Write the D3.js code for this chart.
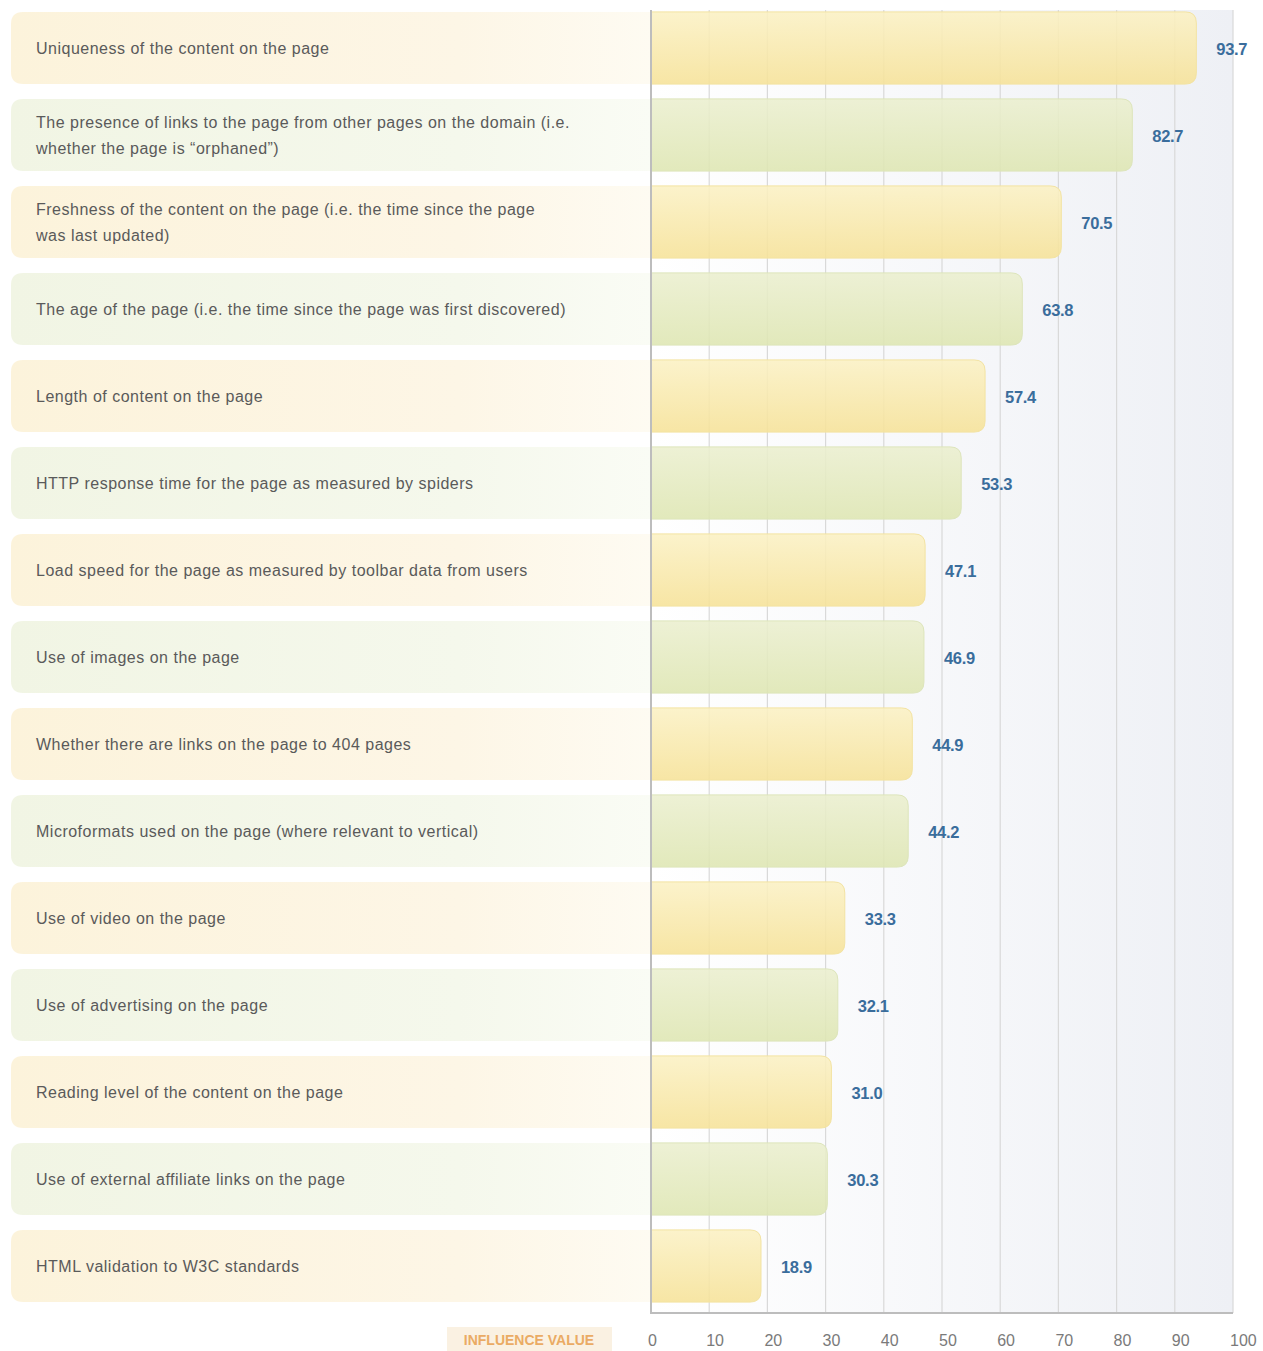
<!DOCTYPE html>
<html><head><meta charset="utf-8">
<script src="https://cdn.jsdelivr.net/npm/d3@7"></script>
<style>body{margin:0;background:#fff;}svg{display:block;}</style>
</head><body>
<script>
const categories = [
  "Uniqueness of the content on the page",
  "The presence of links to the page from other pages on the domain (i.e.\nwhether the page is \u201corphaned\u201d)",
  "Freshness of the content on the page (i.e. the time since the page\nwas last updated)",
  "The age of the page (i.e. the time since the page was first discovered)",
  "Length of content on the page",
  "HTTP response time for the page as measured by spiders",
  "Load speed for the page as measured by toolbar data from users",
  "Use of images on the page",
  "Whether there are links on the page to 404 pages",
  "Microformats used on the page (where relevant to vertical)",
  "Use of video on the page",
  "Use of advertising on the page",
  "Reading level of the content on the page",
  "Use of external affiliate links on the page",
  "HTML validation to W3C standards"
];
const values = [93.7, 82.7, 70.5, 63.8, 57.4, 53.3, 47.1, 46.9, 44.9, 44.2, 33.3, 32.1, 31.0, 30.3, 18.9];
const tickValues = [0,10,20,30,40,50,60,70,80,90,100];
const axisTitle = "INFLUENCE VALUE";

const W = 1263, H = 1351;
const svg = d3.select("body").append("svg").attr("width", W).attr("height", H);
const font = "'Liberation Sans', Arial, Helvetica, sans-serif";

const x = d3.scaleLinear().domain([0,100]).range([651, 1233]);
const y = d3.scaleBand().domain(categories).range([4.5, 1309.5]).paddingInner(0.17).paddingOuter(0.085);
const axisBottom = 1313;

const defs = svg.append("defs");
function vgrad(id, c1, c2){
  const g = defs.append("linearGradient").attr("id", id).attr("x1",0).attr("y1",0).attr("x2",0).attr("y2",1);
  g.append("stop").attr("offset","0%").attr("stop-color",c1);
  g.append("stop").attr("offset","100%").attr("stop-color",c2);
}
function hgrad(id, stops){
  const g = defs.append("linearGradient").attr("id", id).attr("x1",0).attr("y1",0).attr("x2",1).attr("y2",0);
  stops.forEach(s=>g.append("stop").attr("offset",s[0]).attr("stop-color",s[1]));
}
vgrad("barY", "#fbf1c4", "#f6e298");
vgrad("barG", "#ebefcf", "#dee6b2");
hgrad("lblY", [["0%","#fcf3db"],["70%","#fdf6e6"],["100%","#fefbf2"]]);
hgrad("lblG", [["0%","#f1f5e4"],["70%","#f5f8ec"],["100%","#fafcf5"]]);
hgrad("plotBg", [["0%","#ffffff"],["100%","#eef0f5"]]);

// plot background
svg.append("rect").attr("x", x(0)).attr("y", 10).attr("width", x(100)-x(0)).attr("height", axisBottom-10)
  .attr("fill","url(#plotBg)");

// gridlines
svg.append("g").selectAll("line").data(tickValues.filter(d=>d>0)).join("line")
  .attr("x1", d=>x(d)).attr("x2", d=>x(d)).attr("y1", 10).attr("y2", axisBottom)
  .attr("stroke", "#d9d9d9").attr("stroke-width", 1.2);

// label backgrounds
const r = 12;
function leftRounded(x0, y0, w, h, rr){
  return `M${x0+rr},${y0} H${x0+w} V${y0+h} H${x0+rr} Q${x0},${y0+h} ${x0},${y0+h-rr} V${y0+rr} Q${x0},${y0} ${x0+rr},${y0} Z`;
}
function rightRounded(x0, y0, w, h, rr){
  rr = Math.min(rr, w/2);
  return `M${x0},${y0} H${x0+w-rr} Q${x0+w},${y0} ${x0+w},${y0+rr} V${y0+h-rr} Q${x0+w},${y0+h} ${x0+w-rr},${y0+h} H${x0} Z`;
}
svg.append("g").selectAll("path").data(categories).join("path")
  .attr("d", (d)=>leftRounded(11, y(d), x(0)-11, y.bandwidth(), r))
  .attr("fill", (d,i)=> i%2===0 ? "url(#lblY)" : "url(#lblG)");

// bars
svg.append("g").selectAll("path").data(values).join("path")
  .attr("d", (v,i)=>rightRounded(x(0), y(categories[i]), x(v)-x(0), y.bandwidth(), 11))
  .attr("fill", (v,i)=> i%2===0 ? "url(#barY)" : "url(#barG)")
  .attr("fill-opacity", 0.88)
  .attr("stroke", (v,i)=> i%2===0 ? "#f3e3a2" : "#dde5bb")
  .attr("stroke-width", 1);

// axis lines
svg.append("line").attr("x1", x(0)).attr("x2", x(0)).attr("y1", 10).attr("y2", axisBottom+1)
  .attr("stroke","#bdbdbd").attr("stroke-width",2);
svg.append("line").attr("x1", x(0)).attr("x2", x(100)).attr("y1", axisBottom).attr("y2", axisBottom)
  .attr("stroke","#bdbdbd").attr("stroke-width",2);

// category labels
const lg = svg.append("g").attr("font-family", font).attr("font-size", 16).attr("fill", "#5a5a5a")
  .attr("letter-spacing", 0.5);
categories.forEach((c,i)=>{
  const lines = c.split("\n");
  const cy = y(c) + y.bandwidth()/2;
  const lh = 26;
  const t = lg.append("text").attr("x", 36).attr("y", cy - (lines.length-1)*lh/2).attr("dominant-baseline","central");
  lines.forEach((ln,j)=>{
    t.append("tspan").attr("x",36).attr("dy", j===0?0:lh).text(ln);
  });
});

// value labels
svg.append("g").selectAll("text").data(values).join("text")
  .attr("x", v=>x(v)+20).attr("y", (v,i)=>y(categories[i])+y.bandwidth()/2+1)
  .attr("dominant-baseline","central")
  .attr("font-family", font).attr("font-size", 16.5).attr("font-weight","bold")
  .attr("fill", "#3a6d9c").attr("letter-spacing", -0.3)
  .text(v=>v.toFixed(1));

// tick labels
svg.append("g").selectAll("text").data(tickValues).join("text")
  .attr("x", d=>x(d)-3).attr("y", 1340).attr("dominant-baseline","central")
  .attr("font-family", font).attr("font-size", 16).attr("fill", "#7a7a7a")
  .text(d=>d);

// axis title box
svg.append("rect").attr("x", 447).attr("y", 1327).attr("width", 165).attr("height", 26).attr("fill","#faf1e2");
svg.append("text").attr("x", 529).attr("y", 1340).attr("text-anchor","middle").attr("dominant-baseline","central")
  .attr("font-family", font).attr("font-size", 14).attr("font-weight","bold").attr("fill","#eaab64")
  .text(axisTitle);
</script>
</body></html>
